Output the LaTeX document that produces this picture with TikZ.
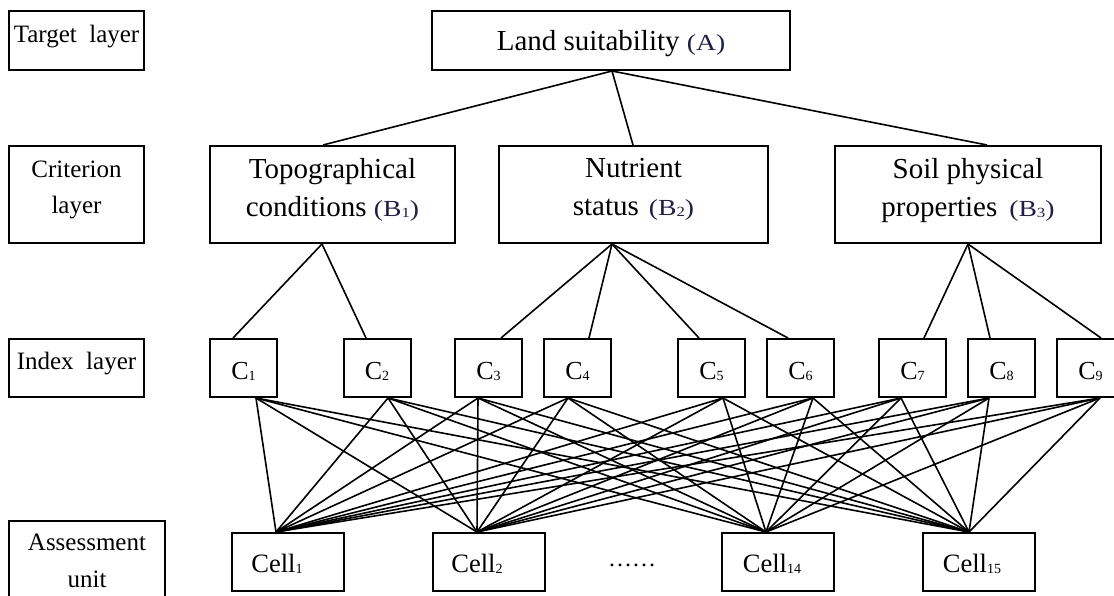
\documentclass[tikz,border=0pt]{standalone}
\usepackage{tikz}
\usepackage{fontspec}
\setmainfont{Liberation Serif}
\newfontfamily\pfont[FakeStretch=1.2]{Liberation Serif}
\definecolor{pcol}{RGB}{30,30,70}
\newcommand\mysub[2][14]{\raisebox{-1.2pt}{\fontsize{#1}{#1}\selectfont #2}}
\newcommand\pl[1]{{\color{pcol}\pfont\fontsize{23}{23}\selectfont(#1)}}
\tikzset{
  box/.style={draw=black, line width=2pt, inner sep=0pt},
  labbox/.style={box, align=center, font=\fontsize{25}{36}\selectfont},
  mainbox/.style={box, align=center, font=\fontsize{29}{38}\selectfont},
  cbox/.style={box, minimum width=67pt, minimum height=58pt, text height=22pt, text depth=0pt, font=\fontsize{26}{30}\selectfont},
  cellbox/.style={box, minimum width=112pt, minimum height=58pt, text height=20pt, text depth=0pt, font=\fontsize{26.5}{30}\selectfont},
  link/.style={line width=1.6pt}
}
\begin{document}
\begin{tikzpicture}[x=1pt,y=-1pt]
\useasboundingbox (0,0) rectangle (1114,595);
% layer labels
\node[labbox, minimum width=135pt, minimum height=59pt] (target) at (76.5,40.5) {Target~~layer\rule[-13pt]{0pt}{13pt}};
\node[labbox, minimum width=135pt, minimum height=97pt] (criterion) at (76.5,194.5) {Criterion\\layer\rule[-14pt]{0pt}{14pt}};
\node[labbox, minimum width=135pt, minimum height=58pt] (index) at (76.5,368) {Index~~layer\rule[-15pt]{0pt}{15pt}};
\node[labbox, minimum width=156pt, minimum height=79pt, font=\fontsize{25}{37}\selectfont] (assess) at (87,560.5) {Assessment\\unit};
% target
\node[box, minimum width=358pt, minimum height=59pt, font=\fontsize{29}{34}\selectfont, text depth=1pt] (A) at (611,40.5) {Land suitability \pl{A}};
% criteria
\node[mainbox, minimum width=245pt, minimum height=97pt] (B1) at (332.5,194.5) {Topographical\\conditions \pl{B\mysub{1}}\rule[-15pt]{0pt}{15pt}};
\node[mainbox, minimum width=269pt, minimum height=97pt] (B2) at (633.5,194.5) {Nutrient\\status\hspace{10pt}\pl{B\mysub{2}}\rule[-15pt]{0pt}{15pt}};
\node[mainbox, minimum width=266pt, minimum height=97pt] (B3) at (968,194.5) {Soil physical\\properties\hspace{12pt}\pl{B\mysub{3}}\rule[-15pt]{0pt}{15pt}};
% indices
\node[cbox] (c1) at (243.5,368) {C\mysub{1}};
\node[cbox] (c2) at (377,368) {C\mysub{2}};
\node[cbox] (c3) at (488.5,368) {C\mysub{3}};
\node[cbox] (c4) at (577.5,368) {C\mysub{4}};
\node[cbox] (c5) at (711.5,368) {C\mysub{5}};
\node[cbox] (c6) at (800.5,368) {C\mysub{6}};
\node[cbox] (c7) at (912.5,368) {C\mysub{7}};
\node[cbox] (c8) at (1001.5,368) {C\mysub{8}};
\node[cbox] (c9) at (1090.5,368) {C\mysub{9}};
% cells
\node[cellbox] (cell1) at (288,562) {Cell\mysub{1}\kern22pt};
\node[cellbox] (cell2) at (489,562) {Cell\mysub{2}\kern24pt};
\node[cellbox] (cell14) at (778,562) {Cell\mysub{14}\kern12pt};
\node[cellbox] (cell15) at (979,562) {Cell\mysub{15}\kern14pt};
\node[font=\fontsize{24}{24}\selectfont, inner sep=0pt] (dots) at (632,565) {……};
% A to B
\draw[link] ([xshift=1pt]A.south) -- ([xshift=-9.5pt]B1.north);
\draw[link] ([xshift=1pt]A.south) -- ([xshift=-0.5pt]B2.north);
\draw[link] ([xshift=1pt]A.south) -- ([xshift=19pt]B3.north);
% B to C
\draw[link] ([xshift=-10.5pt]B1.south) -- ([xshift=-10.5pt]c1.north);
\draw[link] ([xshift=-10.5pt]B1.south) -- ([xshift=-11pt]c2.north);
\draw[link] ([xshift=-21.5pt]B2.south) -- ([xshift=12.5pt]c3.north);
\draw[link] ([xshift=-21.5pt]B2.south) -- ([xshift=11.5pt]c4.north);
\draw[link] ([xshift=-21.5pt]B2.south) -- ([xshift=-12.5pt]c5.north);
\draw[link] ([xshift=-21.5pt]B2.south) -- ([xshift=-12.5pt]c6.north);
\draw[link] (B3.south) -- ([xshift=11.5pt]c7.north);
\draw[link] (B3.south) -- ([xshift=-11.5pt]c8.north);
\draw[link] (B3.south) -- ([xshift=10.5pt]c9.north);
% C to cells
\foreach \c/\dc in {c1/12.5, c2/11, c3/-10.5, c4/-9.5, c5/11.5, c6/12.5, c7/-11.5, c8/-12.5, c9/9.5}
  \foreach \e/\de in {cell1/-12, cell2/-12, cell14/-12, cell15/-10}
    \draw[link] ([xshift=\dc pt]\c.south) -- ([xshift=\de pt]\e.north);
\end{tikzpicture}
\end{document}
